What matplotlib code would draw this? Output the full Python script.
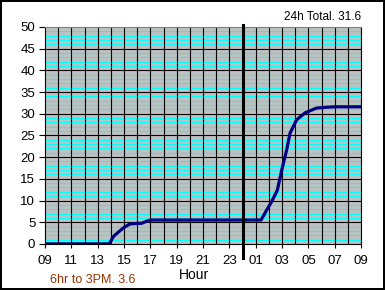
import numpy as np
import matplotlib.pyplot as plt
from matplotlib.transforms import blended_transform_factory

plt.rcParams['font.family'] = ['Liberation Sans', 'DejaVu Sans']

# hours since 09:00 and cumulative total
hours = [0, 4.88, 5.19, 5.6, 6.0, 6.45, 6.9, 7.34, 7.85, 8.1, 16.4,
         16.83, 17.2, 17.64, 17.97, 18.35, 18.6, 19.1, 19.74, 20.6, 21.4, 22.0, 24]
total = [0, 0, 1.7, 2.8, 3.8, 4.6, 4.7, 4.75, 5.4, 5.5, 5.5,
         7.8, 9.7, 12.4, 17.0, 21.7, 25.5, 28.6, 30.2, 31.3, 31.5, 31.6, 31.6]
tick_labels = ['09', '11', '13', '15', '17', '19', '21', '23', '01', '03', '05', '07', '09']
midnight = 15

fig = plt.figure(figsize=(3.85, 2.9), dpi=100)
fig.patch.set_edgecolor('black')
fig.patch.set_linewidth(1.5)
ax = fig.add_axes([0.117, 0.159, 0.821, 0.748])
ax.set_facecolor('#c0c0c0')

# cyan minor lines, black major grid
for v in np.arange(1, 50, 1):
    if v % 5:
        ax.axhline(v, color='#00ffff', lw=0.8, zorder=1)
for v in range(5, 50, 5):
    ax.axhline(v, color='black', lw=0.8, zorder=2)
for h in range(1, 24):
    ax.axvline(h, color='black', lw=0.8, zorder=2)

ax.plot(hours, total, color='#000080', lw=2.3, zorder=4)

trans = blended_transform_factory(ax.transData, ax.transAxes)
ax.plot([midnight, midnight], [1.01, -0.065], color='black', lw=2.2,
        transform=trans, clip_on=False, zorder=5)

ax.set_xlim(0, 24)
ax.set_ylim(0, 50)
ax.set_xticks(range(0, 25, 2))
ax.set_xticklabels(tick_labels)
ax.set_yticks(range(0, 51, 5))
ax.tick_params(axis='y', labelsize=9.5, length=4, width=0.8, pad=3)
ax.tick_params(axis='x', labelsize=9.5, length=3, width=0.8, pad=5)
for s in ['left', 'bottom', 'right']:
    ax.spines[s].set_color('black')
    ax.spines[s].set_linewidth(0.8)
ax.spines['top'].set_color('#808080')

fig.text(0.504, 0.052, 'Hour', fontsize=10, ha='center', va='center')
fig.text(0.937, 0.941, '24h Total. 31.6', fontsize=8.5, ha='right', va='center')
fig.text(0.242, 0.033, '6hr to 3PM. 3.6', fontsize=9, ha='center', va='center', color='#993300')

fig.savefig('out.png', dpi=100, edgecolor=fig.get_edgecolor())
